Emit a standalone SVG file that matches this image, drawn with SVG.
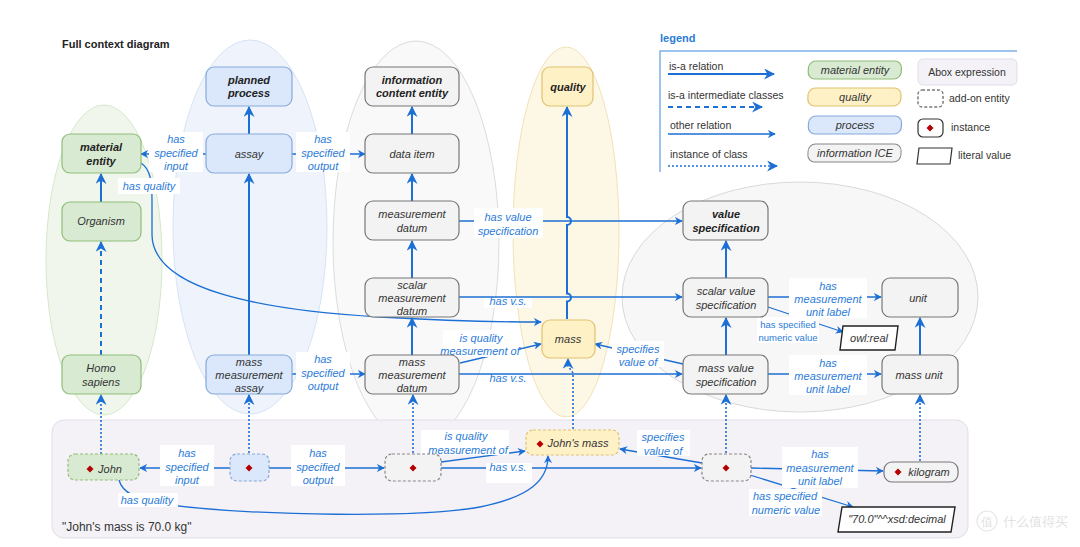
<svg xmlns="http://www.w3.org/2000/svg" width="1080" height="547" viewBox="0 0 1080 547">
<defs>
<style>
text{font-family:"Liberation Sans",Arial,sans-serif}
.n{font-size:11px;font-style:italic;fill:#333;text-anchor:middle}
.nb{font-size:11px;font-style:italic;font-weight:bold;fill:#222;text-anchor:middle}
.l{font-size:11px;font-style:italic;fill:#2b7bd8;text-anchor:middle}
.ls{font-size:9.5px;fill:#2b7bd8;text-anchor:middle}
.lg{font-size:10.5px;fill:#333}
.bg{fill:#fff}
.isa{stroke:#1c6fd4;stroke-width:2;fill:none;marker-end:url(#ab)}
.isd{stroke:#1c6fd4;stroke-width:2;fill:none;stroke-dasharray:5,4;marker-end:url(#ab)}
.rel{stroke:#1c6fd4;stroke-width:1.3;fill:none}
.ra{marker-end:url(#as)}
.ins{stroke:#1c6fd4;stroke-width:1.6;fill:none;stroke-dasharray:2,2;marker-end:url(#ab)}
.g{fill:#d9ead3;stroke:#8fbd78;stroke-width:1.2}
.b{fill:#dbe8fb;stroke:#86a9da;stroke-width:1.2}
.y{fill:#fff1c6;stroke:#e0c271;stroke-width:1.2}
.c{fill:#f3f3f3;stroke:#777;stroke-width:1.2}
.d{stroke-dasharray:3,2}
.dm{fill:#b30000}
</style>
<marker id="ab" viewBox="0 0 10 10" refX="9" refY="5" markerWidth="11" markerHeight="11" markerUnits="userSpaceOnUse" orient="auto"><path d="M0,0 L10,5 L0,10 L3,5z" fill="#1c6fd4"/></marker>
<marker id="as" viewBox="0 0 10 10" refX="9" refY="5" markerWidth="8" markerHeight="8" markerUnits="userSpaceOnUse" orient="auto"><path d="M0,0 L10,5 L0,10 L3,5z" fill="#1c6fd4"/></marker>
<path id="dia" d="M0,-3.5 L3.5,0 L0,3.5 L-3.5,0z"/>
</defs>

<g id="background">
<rect width="1080" height="547" fill="#fff"/>
<ellipse cx="104" cy="260" rx="58" ry="155" fill="#f0f6ec" stroke="#d6e8cb"/>
<ellipse cx="250" cy="227" rx="77" ry="187" fill="#eff4fc" stroke="#d7e3f5"/>
<ellipse cx="416" cy="242" rx="83" ry="201" fill="#f9f9f9" stroke="#dcdcdc"/>
<ellipse cx="566" cy="232" rx="53" ry="185" fill="#fdf7e6" stroke="#f1e2b8"/>
<ellipse cx="800" cy="297" rx="178" ry="115" fill="#f7f7f7" stroke="#d9d9d9"/>
<rect x="52" y="420" width="916" height="118" rx="12" fill="#f4f2f7" stroke="#e1dde8"/>
<text x="62" y="531" font-size="12" fill="#333">"John's mass is 70.0 kg"</text>
<text x="62" y="48" font-size="11" font-weight="bold" fill="#222">Full context diagram</text>
</g>

<g id="legend">
<text x="660" y="42" font-size="11" font-weight="bold" fill="#2b7bd8">legend</text>
<path d="M660,172 V51 H1017" fill="none" stroke="#7fb1e8" stroke-width="1.5"/>
<text class="lg" x="669" y="70">is-a relation</text>
<line class="isa" x1="668" y1="74" x2="774" y2="74"/>
<text class="lg" x="668" y="99">is-a intermediate classes</text>
<line class="isd" x1="668" y1="107" x2="762" y2="107"/>
<text class="lg" x="670" y="129">other relation</text>
<line class="rel ra" x1="668" y1="134" x2="775" y2="134"/>
<text class="lg" x="670" y="158">instance of class</text>
<line class="ins" x1="668" y1="166" x2="777" y2="166"/>
<rect class="g" x="808" y="61" width="93" height="18" rx="7" transform="skewX(-3) translate(4,0)"/>
<text class="n" x="855" y="74">material entity</text>
<rect class="y" x="808" y="88" width="93" height="18" rx="7" transform="skewX(-3) translate(5,0)"/>
<text class="n" x="855" y="101">quality</text>
<rect class="b" x="808" y="116" width="93" height="18" rx="7" transform="skewX(-3) translate(7,0)"/>
<text class="n" x="855" y="129">process</text>
<rect x="808" y="144" width="93" height="18" rx="7" fill="#f3f3f3" stroke="#888" transform="skewX(-3) translate(8,0)"/>
<text class="n" x="855" y="157" fill="#555">information ICE</text>
<rect x="918" y="59" width="99" height="26" rx="5" fill="#f4f2f7" stroke="#e1dde8"/>
<text class="lg" x="967" y="76" text-anchor="middle">Abox expression</text>
<rect x="918" y="90" width="25" height="17" rx="4" fill="#fff" stroke="#333" stroke-dasharray="3,2"/>
<text class="lg" x="949" y="102">add-on entity</text>
<rect x="918" y="119" width="25" height="18" rx="5" fill="#fff" stroke="#333" stroke-width="1.2"/>
<use href="#dia" class="dm" x="930" y="128"/>
<text class="lg" x="951" y="131">instance</text>
<path d="M919,148 H952 L950,164 H917z" fill="#fff" stroke="#333" stroke-width="1.2"/>
<text class="lg" x="958" y="159">literal value</text>
</g>

<g id="connectors">
<line class="isa" x1="249" y1="134" x2="249" y2="107"/>
<line class="isa" x1="101" y1="202" x2="101" y2="174"/>
<line class="isd" x1="101" y1="355" x2="101" y2="242"/>
<line class="isa" x1="249" y1="355" x2="249" y2="174"/>
<line class="isa" x1="412" y1="134" x2="412" y2="107"/>
<line class="isa" x1="412" y1="201" x2="412" y2="174"/>
<line class="isa" x1="412" y1="278" x2="412" y2="241"/>
<line class="isa" x1="412" y1="355" x2="412" y2="318"/>
<path class="isa" d="M567,319 V301.5 A4,4 0 0 0 567,293.5 V225 A4,4 0 0 0 567,217 V107"/>
<line class="isa" x1="726" y1="278" x2="726" y2="241"/>
<line class="isa" x1="726" y1="355" x2="726" y2="318"/>
<line class="isa" x1="920" y1="355" x2="920" y2="318"/>
<line class="ins" x1="101" y1="454" x2="101" y2="395"/>
<line class="ins" x1="249" y1="453" x2="249" y2="395"/>
<line class="ins" x1="413" y1="453" x2="413" y2="395"/>
<path class="ins" d="M573,429 V373 L568,366 V359"/>
<line class="ins" x1="726" y1="453" x2="726" y2="395"/>
<line class="ins" x1="920" y1="461" x2="920" y2="395"/>
<line class="rel ra" x1="206" y1="154" x2="141" y2="154"/>
<line class="rel ra" x1="292" y1="154" x2="365" y2="154"/>
<path class="rel ra" d="M141,163 C150,169 152,180 152,200 L152,235 C153,290 260,310 380,317 C450,321 500,322 541,322"/>
<line class="rel ra" x1="292" y1="374" x2="365" y2="374"/>
<line class="rel ra" x1="459" y1="221" x2="682" y2="221"/>
<line class="rel ra" x1="459" y1="297" x2="682" y2="297"/>
<line class="rel ra" x1="460" y1="363" x2="541" y2="344"/>
<line class="rel ra" x1="459" y1="374" x2="682" y2="374"/>
<line class="rel ra" x1="683" y1="364" x2="595" y2="344"/>
<line class="rel ra" x1="768" y1="297" x2="881" y2="297"/>
<line class="rel ra" x1="768" y1="307" x2="843" y2="332"/>
<line class="rel ra" x1="768" y1="374" x2="881" y2="374"/>
<line class="rel ra" x1="230" y1="468" x2="140" y2="468"/>
<line class="rel ra" x1="269" y1="468" x2="384" y2="468"/>
<line class="rel ra" x1="441" y1="462" x2="525" y2="451"/>
<line class="rel ra" x1="441" y1="468" x2="701" y2="468"/>
<path class="rel ra" d="M119,480 C122,492 135,500 170,505 C260,516 420,518 480,507 C530,497 548,480 548,456"/>
<line class="rel ra" x1="702" y1="463" x2="620" y2="449"/>
<line class="rel ra" x1="751" y1="468" x2="883" y2="471"/>
<line class="rel ra" x1="750" y1="475" x2="853" y2="507"/>
</g>

<g id="labels">
<rect class="bg" x="149" y="132" width="54" height="40"/>
<text class="l" x="176" y="143">has<tspan x="176" dy="13.5">specified</tspan><tspan x="176" dy="13.5">input</tspan></text>
<rect class="bg" x="296" y="132" width="54" height="40"/>
<text class="l" x="323" y="143">has<tspan x="323" dy="13.5">specified</tspan><tspan x="323" dy="13.5">output</tspan></text>
<rect class="bg" x="118" y="178" width="62" height="16"/>
<text class="l" x="149" y="190">has quality</text>
<rect class="bg" x="296" y="352" width="54" height="40"/>
<text class="l" x="323" y="363">has<tspan x="323" dy="13.5">specified</tspan><tspan x="323" dy="13.5">output</tspan></text>
<rect class="bg" x="474" y="208" width="69" height="30"/>
<text class="l" x="508" y="221">has value<tspan x="508" dy="14">specification</tspan></text>
<rect class="bg" x="484" y="298" width="48" height="10"/>
<text class="l" x="508" y="305">has v.s.</text>
<rect class="bg" x="443" y="330" width="76" height="27"/>
<text class="l" x="481" y="342">is quality<tspan x="480" dy="13">measurement of</tspan></text>
<rect class="bg" x="484" y="375" width="48" height="10"/>
<text class="l" x="508" y="382">has v.s.</text>
<rect class="bg" x="612" y="341" width="52" height="26"/>
<text class="l" x="638" y="353">specifies<tspan x="638" dy="13">value of</tspan></text>
<rect class="bg" x="789" y="278" width="78" height="40"/>
<text class="l" x="828" y="290">has<tspan x="828" dy="13">measurement</tspan><tspan x="828" dy="13">unit label</tspan></text>
<rect class="bg" x="757" y="317" width="62" height="26"/>
<text class="ls" x="788" y="328">has specified<tspan x="788" dy="13">numeric value</tspan></text>
<rect class="bg" x="789" y="355" width="78" height="40"/>
<text class="l" x="828" y="367">has<tspan x="828" dy="13">measurement</tspan><tspan x="828" dy="13">unit label</tspan></text>
<rect class="bg" x="160" y="445" width="54" height="41"/>
<text class="l" x="187" y="457">has<tspan x="187" dy="13.5">specified</tspan><tspan x="187" dy="13.5">input</tspan></text>
<rect class="bg" x="291" y="445" width="54" height="41"/>
<text class="l" x="318" y="457">has<tspan x="318" dy="13.5">specified</tspan><tspan x="318" dy="13.5">output</tspan></text>
<rect class="bg" x="118" y="493" width="60" height="14"/>
<text class="l" x="147" y="504">has quality</text>
<rect class="bg" x="421" y="430" width="88" height="25"/>
<text class="l" x="466" y="440">is quality<tspan x="468" dy="13.5">measurement  of</tspan></text>
<rect class="bg" x="486" y="463" width="46" height="20"/>
<text class="l" x="508" y="471">has v.s.</text>
<rect class="bg" x="637" y="430" width="53" height="26"/>
<text class="l" x="663" y="441">specifies<tspan x="663" dy="13.5">value of</tspan></text>
<rect class="bg" x="782" y="447" width="76" height="41"/>
<text class="l" x="820" y="458">has<tspan x="820" dy="13.5">measurement</tspan><tspan x="820" dy="13.5">unit label</tspan></text>
<rect class="bg" x="749" y="489" width="73" height="27"/>
<text class="l" x="785" y="500">has specified<tspan x="786" dy="13.5">numeric value</tspan></text>
</g>

<g id="planned-process"><rect class="b" x="206" y="67" width="86" height="39" rx="8"/><text class="nb" x="249" y="84">planned<tspan x="249" dy="13">process</tspan></text></g>
<g id="material-entity"><rect class="g" x="62" y="134" width="79" height="39" rx="8"/><text class="nb" x="101" y="151">material<tspan x="101" dy="14">entity</tspan></text></g>
<g id="assay"><rect class="b" x="206" y="134" width="86" height="39" rx="8"/><text class="n" x="249" y="158">assay</text></g>
<g id="organism"><rect class="g" x="62" y="202" width="79" height="39" rx="8"/><text class="n" x="101" y="225">Organism</text></g>
<g id="homo-sapiens"><rect class="g" x="62" y="355" width="79" height="39" rx="8"/><text class="n" x="101" y="372">Homo<tspan x="101" dy="14">sapiens</tspan></text></g>
<g id="mass-measurement-assay"><rect class="b" x="206" y="355" width="86" height="39" rx="8"/><text class="n" x="249" y="366">mass<tspan x="249" dy="13">measurement</tspan><tspan x="249" dy="13">assay</tspan></text></g>
<g id="information-content-entity"><rect class="c" x="365" y="67" width="94" height="39" rx="8"/><text class="nb" x="412" y="84">information<tspan x="412" dy="13">content entity</tspan></text></g>
<g id="data-item"><rect class="c" x="365" y="134" width="94" height="39" rx="8"/><text class="n" x="412" y="158" fill="#555">data item</text></g>
<g id="measurement-datum"><rect class="c" x="365" y="201" width="94" height="39" rx="8"/><text class="n" x="412" y="218">measurement<tspan x="412" dy="14">datum</tspan></text></g>
<g id="scalar-measurement-datum"><rect class="c" x="365" y="278" width="94" height="39" rx="8"/><text class="n" x="412" y="289">scalar<tspan x="412" dy="13">measurement</tspan><tspan x="412" dy="13">datum</tspan></text></g>
<g id="mass-measurement-datum"><rect class="c" x="365" y="355" width="94" height="39" rx="8"/><text class="n" x="412" y="366">mass<tspan x="412" dy="13">measurement</tspan><tspan x="412" dy="13">datum</tspan></text></g>
<g id="quality"><rect class="y" x="542" y="67" width="51" height="39" rx="8"/><text class="nb" x="568" y="91">quality</text></g>
<g id="mass"><rect class="y" x="542" y="320" width="53" height="38" rx="8"/><text class="n" x="568" y="343">mass</text></g>
<g id="value-specification"><rect class="c" x="683" y="201" width="85" height="39" rx="8"/><text class="nb" x="726" y="218">value<tspan x="726" dy="14">specification</tspan></text></g>
<g id="scalar-value-specification"><rect class="c" x="683" y="278" width="85" height="39" rx="8"/><text class="n" x="726" y="295" fill="#555">scalar value<tspan x="726" dy="14">specification</tspan></text></g>
<g id="mass-value-specification"><rect class="c" x="683" y="355" width="85" height="39" rx="8"/><text class="n" x="726" y="372">mass value<tspan x="726" dy="14">specification</tspan></text></g>
<g id="unit"><rect class="c" x="882" y="278" width="76" height="39" rx="8"/><text class="n" x="918" y="302">unit</text></g>
<g id="mass-unit"><rect class="c" x="882" y="355" width="76" height="39" rx="8"/><text class="n" x="919" y="379">mass unit</text></g>
<g id="owl-real"><path d="M843,326 H898 L895,350 H840z" fill="#fff" stroke="#222" stroke-width="1.4"/><text class="n" x="869" y="342" fill="#222">owl:real</text></g>

<g id="john"><rect class="g d" x="68" y="454" width="71" height="26" rx="7"/><use href="#dia" class="dm" x="90" y="469"/><text class="n" x="110" y="473" fill="#222">John</text></g>
<g id="mass-measurement-assay-instance"><rect class="b d" x="230" y="454" width="39" height="27" rx="7"/><use href="#dia" class="dm" x="249" y="468"/></g>
<g id="mass-measurement-datum-instance"><rect class="d" x="385" y="454" width="56" height="27" rx="7" fill="#f3f3f3" stroke="#888" stroke-width="1.2"/><use href="#dia" class="dm" x="413" y="468"/></g>
<g id="johns-mass"><rect class="y d" x="526" y="430" width="93" height="25" rx="7"/><use href="#dia" class="dm" x="540" y="444"/><text class="n" x="578" y="447" fill="#222">John's mass</text></g>
<g id="mass-value-specification-instance"><rect class="d" x="702" y="454" width="49" height="27" rx="7" fill="#f3f3f3" stroke="#888" stroke-width="1.2"/><use href="#dia" class="dm" x="726" y="468"/></g>
<g id="kilogram"><rect class="c" x="884" y="462" width="74" height="20" rx="8"/><use href="#dia" class="dm" x="898" y="472"/><text class="n" x="929" y="476" fill="#222">kilogram</text></g>
<g id="literal-70"><path d="M842,507 H955 L951,532 H838z" fill="#fff" stroke="#222" stroke-width="1.4"/><text class="n" x="897" y="523" fill="#222">"70.0"^^xsd:decimal</text></g>

<g id="watermark" opacity="0.35">
<circle cx="987" cy="521" r="10" fill="none" stroke="#bbb" stroke-width="1.2"/>
<text x="987" y="526" font-size="12" fill="#aaa" text-anchor="middle" font-family="'Noto Sans CJK SC',sans-serif">值</text>
<text x="1003" y="526" font-size="13" fill="#aaa" font-family="'Noto Sans CJK SC',sans-serif">什么值得买</text>
</g>
</svg>
